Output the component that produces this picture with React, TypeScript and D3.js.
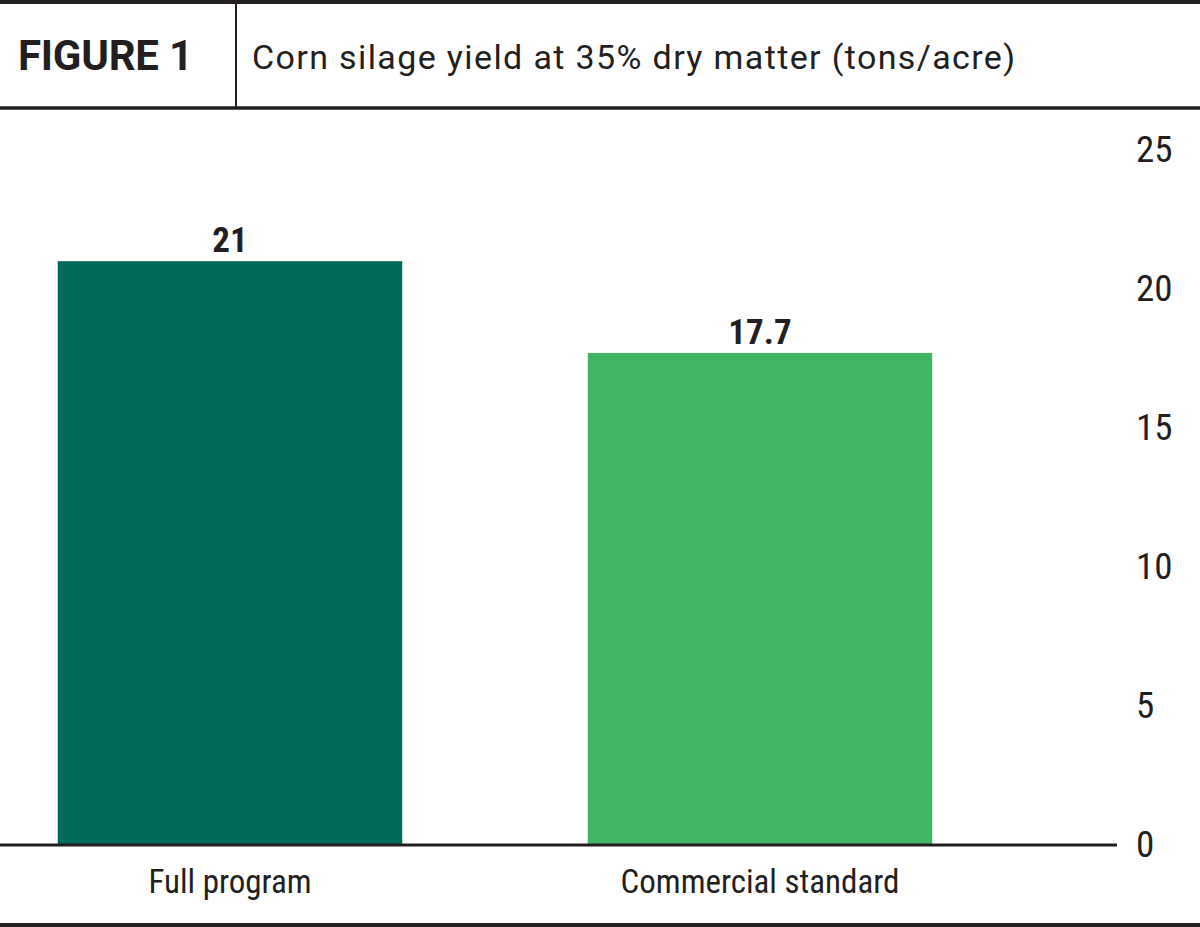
import React, { useEffect, useRef } from 'react';
import * as d3 from 'd3';

// chart data
const categories = ['Full program', 'Commercial standard'];
const yields = [21, 17.7];
const barLabels = ['21', '17.7'];
const barColors = ['#006957', '#41b563'];
const yTicks = [0, 5, 10, 15, 20, 25];

const figureLabel = 'FIGURE 1';
const title = 'Corn silage yield at 35% dry matter (tons/acre)';

const W = 1200;
const H = 927;
const narrow = "'Liberation Sans Narrow', 'Arial Narrow', 'Roboto Condensed', sans-serif";

export default function App() {
  const axisRef = useRef<SVGGElement>(null);

  const x = d3.scaleBand<string>()
    .domain(categories)
    .range([0, 990])
    .paddingInner(0.35)
    .paddingOuter(0.109);

  const y = d3.scaleLinear().domain([0, 25]).range([845, 150]);

  useEffect(() => {
    if (!axisRef.current) return;
    const g = d3.select(axisRef.current);
    g.call(
      d3.axisRight(y)
        .tickValues(yTicks)
        .tickSize(0)
        .tickPadding(0)
        .tickFormat(d3.format('d'))
    );
    g.select('.domain').remove();
    g.selectAll('text')
      .attr('font-family', narrow)
      .attr('font-size', 37)
      .attr('fill', '#231f20');
  }, []);

  return (
    <svg width={W} height={H} style={{ position: 'absolute', left: 0, top: 0, background: '#fff' }}>
      {/* header */}
      <line x1={0} x2={W} y1={2} y2={2} stroke="#231f20" strokeWidth={4} />
      <line x1={236} x2={236} y1={0} y2={108} stroke="#231f20" strokeWidth={2} />
      <line x1={0} x2={W} y1={108} y2={108} stroke="#231f20" strokeWidth={3.5} />
      <text x={18} y={70} fontFamily="Roboto, sans-serif" fontWeight={700} fontSize={42}
        fill="#231f20" textLength={175} lengthAdjust="spacing">{figureLabel}</text>
      <text x={252} y={69} fontFamily="Roboto, sans-serif" fontSize={34} fill="#231f20"
        textLength={763} lengthAdjust="spacing">{title}</text>

      {/* bars */}
      <g>
        {categories.map((c, i) => (
          <g key={c}>
            <rect x={x(c)} y={y(yields[i])} width={x.bandwidth()} height={y(0) - y(yields[i])}
              fill={barColors[i]} />
            <text x={(x(c) ?? 0) + x.bandwidth() / 2} y={y(yields[i]) - 9} textAnchor="middle"
              fontFamily={narrow} fontWeight={700} fontSize={35} fill="#231f20">{barLabels[i]}</text>
            <text x={(x(c) ?? 0) + x.bandwidth() / 2} y={893} textAnchor="middle"
              fontFamily={narrow} fontSize={33} fill="#231f20">{c}</text>
          </g>
        ))}
      </g>

      {/* baseline and value axis */}
      <line x1={0} x2={1117} y1={y(0)} y2={y(0)} stroke="#231f20" strokeWidth={3} />
      <g ref={axisRef} transform="translate(1136,0)" />

      <line x1={0} x2={W} y1={925} y2={925} stroke="#231f20" strokeWidth={4} />
    </svg>
  );
}
